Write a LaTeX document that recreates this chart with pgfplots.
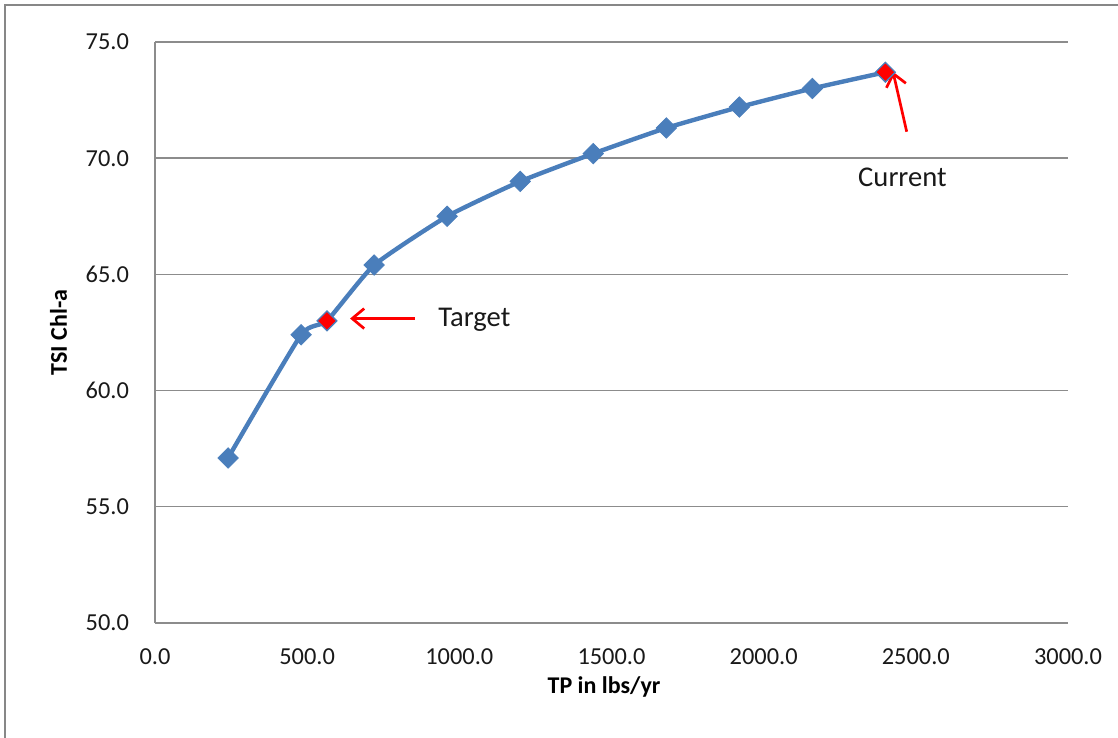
\documentclass[border=0pt]{standalone}
\usepackage{pgfplots}
\pgfplotsset{compat=1.18}
\usepackage{fontspec}
\setmainfont{Carlito}
\usetikzlibrary{arrows.meta}

\definecolor{seriesblue}{HTML}{4A7EBB}
\definecolor{framegray}{HTML}{878787}
\definecolor{gridgray}{HTML}{8C8C8C}

% TSI for chlorophyll-a against total phosphorus load
\pgfplotstableread{
tp     tsi
240    57.1
480    62.4
565    63.0
720    65.4
960    67.5
1200   69.0
1440   70.2
1680   71.3
1920   72.2
2160   73.0
2400   73.7
}\tsiload

\pgfplotstableread{
tp     tsi
565    63.0
2400   73.7
}\tsimarked

\begin{document}
\begin{tikzpicture}
\useasboundingbox (0,0) rectangle (559pt,369pt);
\draw[framegray, line width=1pt] (2.5pt,0) -- (2.5pt,366.5pt) -- (559pt,366.5pt);
\begin{axis}[
  at={(77.5pt,57.5pt)}, anchor=south west,
  scale only axis, width=456.5pt, height=290.5pt,
  xmin=0, xmax=3000, ymin=50, ymax=75,
  xtick={0,500,...,3000}, ytick={50,55,...,75},
  axis lines*=left,
  axis line style={-, gridgray, line width=0.7pt},
  ymajorgrids, grid style={gridgray, line width=0.7pt},
  major tick length=0pt,
  /pgf/number format/.cd, fixed, fixed zerofill, precision=1, 1000 sep={}, assume math mode=true,
  /pgfplots/.cd,
  tick label style={font=\fontsize{12.2}{14}\selectfont, text=black!90},
  yticklabel style={xshift=-9.5pt},
  xticklabel style={yshift=-9.5pt},
  xlabel={TP in lbs/yr},
  ylabel={TSI Chl-a},
  label style={font=\fontsize{12}{14}\selectfont\bfseries},
  xlabel style={at={(axis description cs:0.4918,0)}, anchor=base, yshift=-35pt},
  ylabel style={at={(axis description cs:0,0.5)}, anchor=base, yshift=44pt},
  clip=false,
]
\addplot[seriesblue, line width=2.2pt, smooth, tension=0.3, mark=square*,
  mark size=3.6pt, mark options={rotate=45, fill=seriesblue, draw=seriesblue, line width=0.4pt}]
  table[x=tp, y=tsi] {\tsiload};
\addplot[only marks, mark=square*, mark size=2.9pt,
  mark options={rotate=45, fill=red, draw=red, line width=0.3pt}]
  table[x=tp, y=tsi] {\tsimarked};

\draw[red, line width=1.35pt, -{Straight Barb[length=6pt, width=10pt, line width=1.35pt]}]
  (axis cs:854,63.1) -- (axis cs:641,63.1);
\draw[red, line width=1.35pt, -{Straight Barb[length=6pt, width=10pt, line width=1.35pt]}]
  (axis cs:2470,71.14) -- (axis cs:2425,73.72);

\node[anchor=base west, inner sep=0pt, font=\fontsize{14.3}{16}\selectfont, text=black!90]
  at (axis cs:930,62.74) {Target};
\node[anchor=base, inner sep=0pt, font=\fontsize{14.3}{16}\selectfont, text=black!90]
  at (axis cs:2456,68.80) {Current};
\end{axis}
\end{tikzpicture}
\end{document}
